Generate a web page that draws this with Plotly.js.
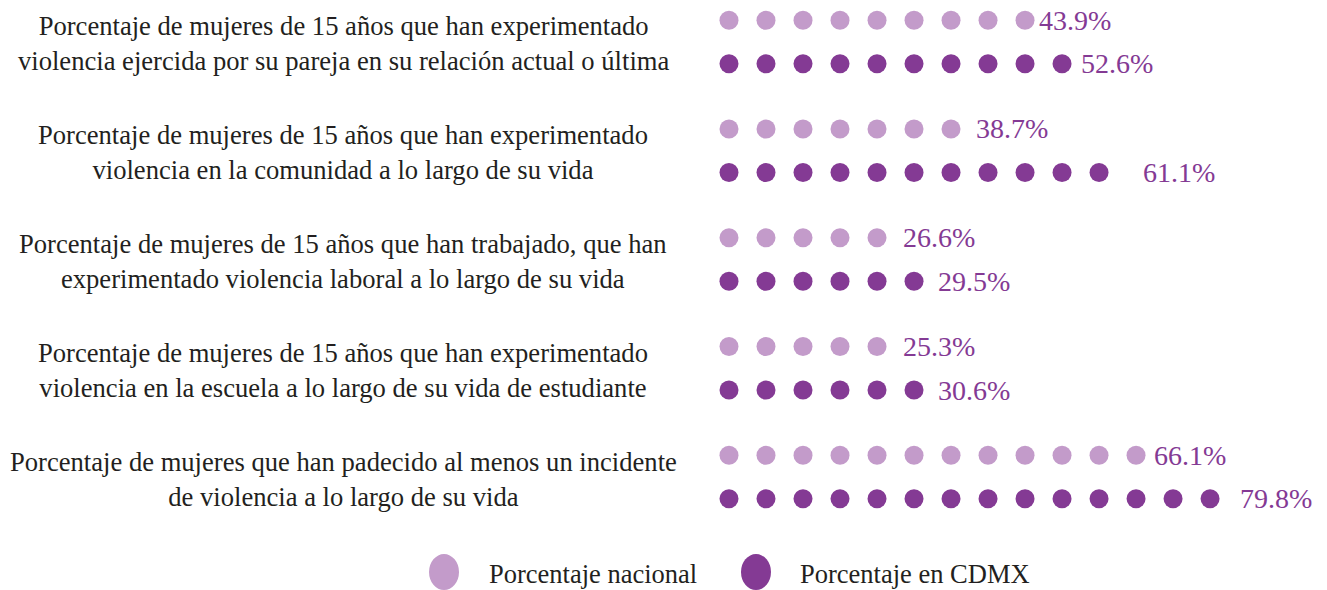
<!DOCTYPE html>
<html><head><meta charset="utf-8">
<script src="https://cdn.plot.ly/plotly-3.0.1.min.js"></script>
<style>html,body{margin:0;padding:0;background:#fff}#chart{width:1327px;height:590px}</style>
</head><body><div id="chart"></div>
<script>
// ---- data ----
const categories = [
  "Porcentaje de mujeres de 15 años que han experimentado<br>violencia ejercida por su pareja en su relación actual o última",
  "Porcentaje de mujeres de 15 años que han experimentado<br>violencia en la comunidad a lo largo de su vida",
  "Porcentaje de mujeres de 15 años que han trabajado, que han<br>experimentado violencia laboral a lo largo de su vida",
  "Porcentaje de mujeres de 15 años que han experimentado<br>violencia en la escuela a lo largo de su vida de estudiante",
  "Porcentaje de mujeres que han padecido al menos un incidente<br>de violencia a lo largo de su vida"
];
const nacionalValues = [43.9, 38.7, 26.6, 25.3, 66.1];
const cdmxValues = [52.6, 61.1, 29.5, 30.6, 79.8];
const nacionalDots = [9, 7, 5, 5, 12];
const cdmxDots = [10, 11, 6, 6, 14];
const seriesNames = ["Porcentaje nacional", "Porcentaje en CDMX"];

// ---- style ----
const lightColor = "#c39bca";
const darkColor = "#843a94";
const textColor = "#231f20";
const serif = "'Liberation Serif', 'Times New Roman', serif";
const rowOffset = 0.2;
const nacLabelShift = [12, 23, 24, 24, 16];
const cdmxLabelShift = [17, 42, 22, 22, 28];

function dotTrace(counts, sign, color, name) {
  const x = [], y = [];
  counts.forEach((n, k) => {
    for (let i = 1; i <= n; i++) { x.push(i); y.push(k + sign * rowOffset); }
  });
  return {type: "scatter", mode: "markers", x, y, name, showlegend: false, hoverinfo: "skip",
          marker: {size: 19, color: color, line: {width: 0}}};
}

const data = [
  dotTrace(nacionalDots, -1, lightColor, seriesNames[0]),
  dotTrace(cdmxDots, 1, darkColor, seriesNames[1])
];

const annotations = [];
categories.forEach((c, k) => {
  annotations.push({xref: "paper", yref: "y", x: 0.2585, y: k, text: c, showarrow: false,
    xanchor: "center", yanchor: "middle", align: "center", yshift: -2,
    font: {family: serif, size: 26.6, color: textColor}});
  annotations.push({xref: "x", yref: "y", x: nacionalDots[k], y: k - rowOffset,
    text: nacionalValues[k].toFixed(1) + "%", showarrow: false, xanchor: "left", yanchor: "middle",
    xshift: nacLabelShift[k], font: {family: serif, size: 28, color: darkColor}});
  annotations.push({xref: "x", yref: "y", x: cdmxDots[k], y: k + rowOffset,
    text: cdmxValues[k].toFixed(1) + "%", showarrow: false, xanchor: "left", yanchor: "middle",
    xshift: cdmxLabelShift[k], font: {family: serif, size: 28, color: darkColor}});
});
// legend
annotations.push({xref: "paper", yref: "paper", x: 0.3670, y: 0.027, text: seriesNames[0], showarrow: false,
  xanchor: "left", yanchor: "middle", font: {family: serif, size: 26.5, color: textColor}});
annotations.push({xref: "paper", yref: "paper", x: 0.6014, y: 0.027, text: seriesNames[1], showarrow: false,
  xanchor: "left", yanchor: "middle", font: {family: serif, size: 26.5, color: textColor}});

const shapes = [
  {type: "circle", xref: "paper", yref: "paper", x0: 0.3233, x1: 0.3459, y0: 0.0, y1: 0.061,
   fillcolor: lightColor, line: {width: 0}},
  {type: "circle", xref: "paper", yref: "paper", x0: 0.5584, x1: 0.5810, y0: 0.0, y1: 0.061,
   fillcolor: darkColor, line: {width: 0}}
];

const layout = {
  width: 1327, height: 590,
  margin: {l: 0, r: 0, t: 0, b: 0, pad: 0},
  paper_bgcolor: "#ffffff", plot_bgcolor: "#ffffff",
  xaxis: {range: [-18.70, 17.16], visible: false, fixedrange: true},
  yaxis: {range: [5.039, -0.386], visible: false, fixedrange: true},
  showlegend: false,
  annotations, shapes
};

Plotly.newPlot("chart", data, layout, {displayModeBar: false, staticPlot: true});
</script>
</body></html>
